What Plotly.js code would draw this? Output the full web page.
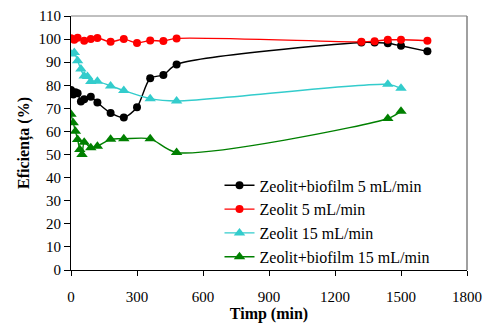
<!DOCTYPE html>
<html>
<head>
<meta charset="utf-8">
<script src="https://cdn.plot.ly/plotly-3.0.1.min.js"></script>
<style>html,body{margin:0;padding:0;background:#fff;}#chart{width:485px;height:325px;}</style>
</head>
<body>
<div id="chart"></div>
<script>
// Zeolit+biofilm 5 mL/min
const tBio5 = [0, 10, 20, 30, 45, 60, 90, 120, 180, 240, 300, 360, 420, 480, 1320, 1380, 1440, 1500, 1620];
const vBio5 = [78, 76, 77, 76.5, 73, 74, 75, 72.5, 68, 66, 70.5, 83, 84.5, 89, 98.5, 98.5, 98.2, 97.1, 94.7];
// Zeolit 5 mL/min
const tZeo5 = [0, 15, 30, 60, 90, 120, 180, 240, 300, 360, 420, 480, 1320, 1380, 1440, 1500, 1620];
const vZeo5 = [100.4, 99.7, 100.6, 99.3, 100, 100.5, 98.8, 100, 98.3, 99.4, 99.2, 100.3, 98.8, 99.1, 99.7, 99.7, 99.3];
// Zeolit 15 mL/min
const tZeo15 = [0, 15, 30, 45, 60, 75, 90, 120, 180, 240, 360, 480, 1440, 1500];
const vZeo15 = [93.5, 94.2, 90.6, 87, 84, 83.8, 81.6, 81.7, 79.7, 77.7, 74.2, 73.2, 80.4, 78.7];
// Zeolit+biofilm 15 mL/min
const tBio15 = [0, 10, 20, 30, 40, 50, 60, 90, 120, 180, 240, 360, 480, 1440, 1500];
const vBio15 = [67.4, 63.8, 60.1, 56.5, 52.2, 50, 55.3, 52.9, 53.6, 56.6, 56.8, 56.8, 50.9, 65.6, 68.7];

const names = ['Zeolit+biofilm 5 mL/min', 'Zeolit 5 mL/min', 'Zeolit 15 mL/min', 'Zeolit+biofilm 15 mL/min'];
const xTicks = [0, 300, 600, 900, 1200, 1500, 1800];
const yTicks = [0, 10, 20, 30, 40, 50, 60, 70, 80, 90, 100, 110];

const SERIF = '"Times New Roman", "Liberation Serif", Tinos, "DejaVu Serif", serif';

function tr(x, y, name, color, symbol, size) {
  return {
    x: x, y: y, name: name, type: 'scatter', mode: 'lines+markers',
    line: {color: color, width: 1.4, shape: 'spline', smoothing: 0.8},
    marker: {color: color, symbol: symbol, size: size, line: {width: 0}}
  };
}

const data = [
  tr(tBio5, vBio5, names[0], '#000000', 'circle', 8),
  tr(tZeo5, vZeo5, names[1], '#FF0000', 'circle', 8),
  tr(tZeo15, vZeo15, names[2], '#33CCCC', 'triangle-up', 10),
  tr(tBio15, vBio15, names[3], '#008000', 'triangle-up', 10)
];

const layout = {
  width: 485, height: 325,
  margin: {l: 71, r: 18, t: 16, b: 55},
  paper_bgcolor: '#ffffff', plot_bgcolor: '#ffffff',
  font: {family: SERIF, size: 15, color: '#000'},
  showlegend: true,
  legend: {
    x: 0.375, y: 0.40, xanchor: 'left', yanchor: 'top',
    font: {family: SERIF, size: 16, color: '#000'},
    bgcolor: 'rgba(255,255,255,0)', borderwidth: 0,
    tracegroupgap: 0, itemwidth: 30
  },
  xaxis: {
    range: [0, 1800], tickvals: xTicks, ticktext: xTicks.map(String),
    showgrid: false, zeroline: false, showline: true, linecolor: '#000', linewidth: 1,
    ticks: 'outside', ticklen: 5, tickcolor: '#000', ticklabelstandoff: 8,
    tickfont: {family: SERIF, size: 15},
    title: {text: '<b>Timp (min)</b>', font: {family: SERIF, size: 16}, standoff: 0}
  },
  yaxis: {
    range: [0, 110], tickvals: yTicks, ticktext: yTicks.map(String),
    showgrid: false, zeroline: false, showline: true, linecolor: '#000', linewidth: 1,
    ticks: 'outside', ticklen: 6, tickcolor: '#000',
    tickfont: {family: SERIF, size: 15},
    title: {text: '<b>Eficiența (%)</b>', font: {family: SERIF, size: 16}, standoff: 4}
  },
  shapes: [
    {type: 'line', xref: 'paper', yref: 'paper', x0: 0, x1: 1, y0: 1, y1: 1, line: {color: '#808080', width: 1}},
    {type: 'line', xref: 'paper', yref: 'paper', x0: 1, x1: 1, y0: 0, y1: 1, line: {color: '#808080', width: 1.5}}
  ]
};

Plotly.newPlot('chart', data, layout, {displayModeBar: false, staticPlot: true});
</script>
</body>
</html>
